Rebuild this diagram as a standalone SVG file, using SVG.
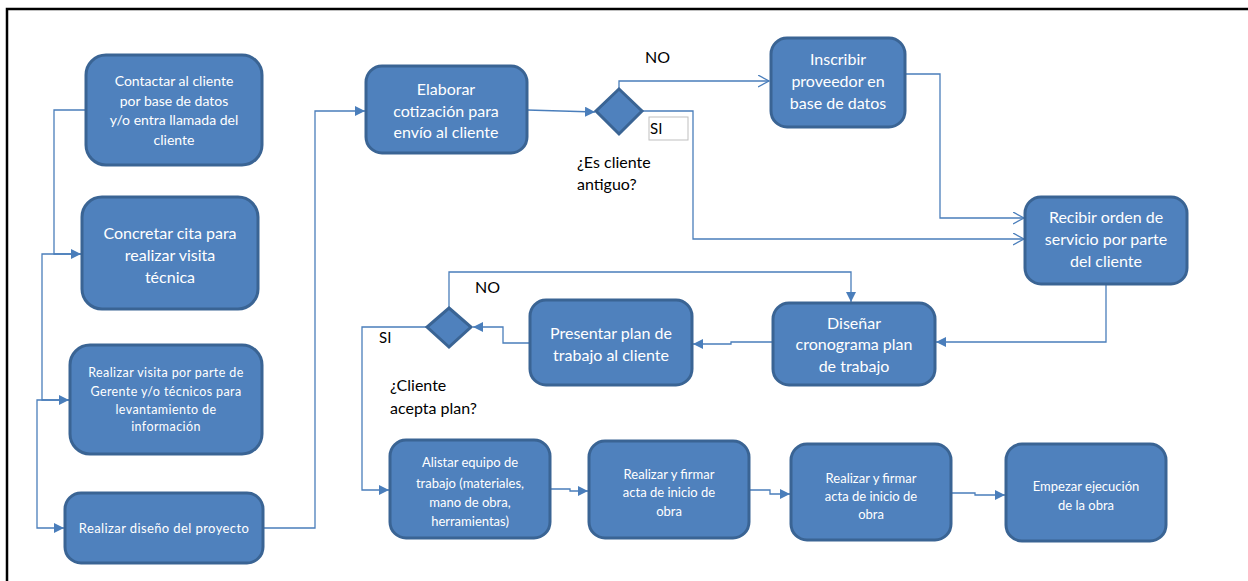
<svg xmlns="http://www.w3.org/2000/svg" width="1248" height="581" viewBox="0 0 1248 581">
<style>
.n{fill:#4F81BD;stroke:#3A6494;stroke-width:3}
.t{fill:#ffffff;font-family:Lato,"Open Sans",sans-serif;text-anchor:middle}
.l{fill:#000000;font-family:Lato,"Open Sans",sans-serif}
.c{fill:none;stroke:#4A7EBB;stroke-width:1.3}
.f{marker-end:url(#fa)}
.o{marker-end:url(#oa)}
</style>
<defs>
<marker id="fa" markerUnits="userSpaceOnUse" markerWidth="12" markerHeight="12" refX="10" refY="5" orient="auto"><path d="M0,0 L10,5 L0,10 Z" fill="#4A7EBB"/></marker>
<marker id="oa" markerUnits="userSpaceOnUse" markerWidth="14" markerHeight="14" refX="11" refY="6" orient="auto"><path d="M0,0 L11,6 L0,12" fill="none" stroke="#4A7EBB" stroke-width="1.3"/></marker>
</defs>
<rect width="1248" height="581" fill="#ffffff"/>
<path d="M7,581 V9 H1248" fill="none" stroke="#000000" stroke-width="2.5"/>

<g id="connectors">
<path class="c f" d="M86,110 H54 V254 H81"/>
<path class="c f" d="M82,254 H42 V400 H69"/>
<path class="c f" d="M70,400 H37 V528 H64"/>
<path class="c f" d="M263,528 H315 V111 H365"/>
<path class="c f" d="M527,110 L595,112"/>
<path class="c o" d="M619,89 V81 H769"/>
<path class="c o" d="M643,111 H693 V239 H1024"/>
<path class="c o" d="M867,74 H940 V218 H1024"/>
<path class="c f" d="M1106,284 V342 H936"/>
<path class="c f" d="M773,342 H731 V344 H693"/>
<path class="c f" d="M530,343 H503 V327 H473"/>
<path class="c f" d="M449,308 V272 H851 V302"/>
<path class="c f" d="M427,327 H362 V490 H389"/>
<path class="c f" d="M550,489 H570 V491 H588"/>
<path class="c f" d="M749,490 H770 V494 H790"/>
<path class="c f" d="M951,493 H975 V495 H1005"/>
</g>

<g id="n1"><rect class="n" x="86" y="55" width="176" height="110" rx="20"/>
<text class="t" font-size="14"><tspan x="174" y="86">Contactar al cliente</tspan><tspan x="174" y="106">por base de datos</tspan><tspan x="174" y="125">y/o entra llamada del</tspan><tspan x="174" y="145">cliente</tspan></text></g>

<g id="n2"><rect class="n" x="82" y="197" width="176" height="112" rx="20"/>
<text class="t" font-size="16"><tspan x="170" y="239">Concretar cita para</tspan><tspan x="170" y="261">realizar visita</tspan><tspan x="170" y="283">técnica</tspan></text></g>

<g id="n3"><rect class="n" x="70" y="345" width="192" height="109" rx="20"/>
<text class="t" font-size="12.5" letter-spacing="0.4"><tspan x="166" y="377">Realizar visita por parte de</tspan><tspan x="166" y="396">Gerente y/o técnicos para</tspan><tspan x="166" y="414">levantamiento de</tspan><tspan x="166" y="431">información</tspan></text></g>

<g id="n4"><rect class="n" x="65" y="493" width="198" height="70" rx="16"/>
<text class="t" font-size="13" letter-spacing="0.4"><tspan x="164" y="533">Realizar diseño del proyecto</tspan></text></g>

<g id="n5"><rect class="n" x="366" y="66" width="161" height="87" rx="16"/>
<text class="t" font-size="16"><tspan x="446" y="95">Elaborar</tspan><tspan x="446" y="117">cotización para</tspan><tspan x="446" y="138">envío al cliente</tspan></text></g>

<g id="d1"><path class="n" d="M619,89 L642,111 L619,134 L596,111 Z"/></g>
<g id="lbl1">
<text class="l" font-size="16" x="645" y="63">NO</text>
<rect x="649" y="117" width="39" height="23" fill="#ffffff" stroke="#BFBFBF" stroke-width="1"/>
<text class="l" font-size="15" x="650" y="134">SI</text>
<text class="l" font-size="16"><tspan x="577" y="168">¿Es cliente</tspan><tspan x="577" y="190">antiguo?</tspan></text>
</g>

<g id="n6"><rect class="n" x="771" y="38" width="134" height="89" rx="16"/>
<text class="t" font-size="16"><tspan x="838" y="65">Inscribir</tspan><tspan x="838" y="87">proveedor en</tspan><tspan x="838" y="109">base de datos</tspan></text></g>

<g id="n7"><rect class="n" x="1025" y="197" width="162" height="87" rx="16"/>
<text class="t" font-size="16"><tspan x="1106" y="223">Recibir orden de</tspan><tspan x="1106" y="245">servicio por parte</tspan><tspan x="1106" y="267">del cliente</tspan></text></g>

<g id="n8"><rect class="n" x="773" y="303" width="162" height="82" rx="16"/>
<text class="t" font-size="16"><tspan x="854" y="329">Diseñar</tspan><tspan x="854" y="350">cronograma plan</tspan><tspan x="854" y="372">de trabajo</tspan></text></g>

<g id="n9"><rect class="n" x="530" y="300" width="162" height="85" rx="16"/>
<text class="t" font-size="16"><tspan x="611" y="339">Presentar plan de</tspan><tspan x="611" y="361">trabajo al cliente</tspan></text></g>

<g id="d2"><path class="n" d="M449,308 L471,327 L449,347 L427,327 Z"/></g>
<g id="lbl2">
<text class="l" font-size="16" x="475" y="293">NO</text>
<text class="l" font-size="15" x="379" y="343">SI</text>
<text class="l" font-size="16"><tspan x="390" y="391">¿Cliente</tspan><tspan x="390" y="414">acepta plan?</tspan></text>
</g>

<g id="n10"><rect class="n" x="390" y="440" width="160" height="98" rx="16"/>
<text class="t" font-size="13"><tspan x="470" y="467">Alistar equipo de</tspan><tspan x="470" y="488">trabajo (materiales,</tspan><tspan x="470" y="507">mano de obra,</tspan><tspan x="470" y="526">herramientas)</tspan></text></g>

<g id="n11"><rect class="n" x="589" y="441" width="160" height="97" rx="16"/>
<text class="t" font-size="13"><tspan x="669" y="479">Realizar y firmar</tspan><tspan x="669" y="497">acta de inicio de</tspan><tspan x="669" y="516">obra</tspan></text></g>

<g id="n12"><rect class="n" x="791" y="444" width="160" height="96" rx="16"/>
<text class="t" font-size="13"><tspan x="871" y="483">Realizar y firmar</tspan><tspan x="871" y="501">acta de inicio de</tspan><tspan x="871" y="519">obra</tspan></text></g>

<g id="n13"><rect class="n" x="1006" y="444" width="160" height="97" rx="16"/>
<text class="t" font-size="13"><tspan x="1086" y="491">Empezar ejecución</tspan><tspan x="1086" y="510">de la obra</tspan></text></g>
</svg>
